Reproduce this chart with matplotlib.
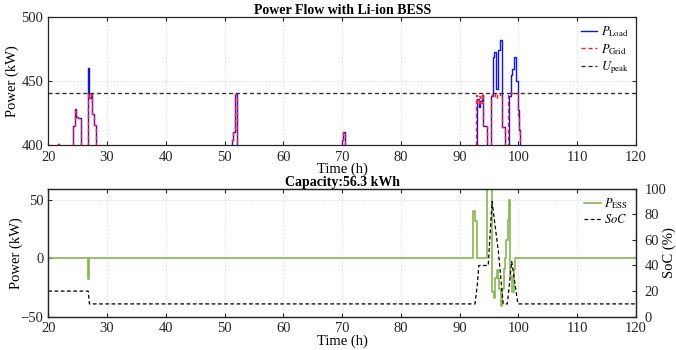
import matplotlib
matplotlib.use('Agg')
import matplotlib.pyplot as plt

# step breakpoints (time in h, value), values hold until the next time
load_t = [20, 21.6, 21.9, 24.2, 24.5, 24.8, 25.1, 25.5, 26.7, 27.0, 27.2, 27.5, 27.8, 28.1,
          51.2, 51.4, 51.7, 52.1, 70.0, 70.2, 70.5,
          92.9, 93.2, 93.45, 93.75, 94.0, 94.6, 95.3, 95.6, 95.85, 96.2, 96.55, 96.85, 97.25, 97.7,
          98.45, 98.7, 98.95, 99.2, 99.55, 99.85, 100.1, 100.3, 120]
load_kw = [380, 401, 380, 415, 428, 422, 421, 380, 460, 437, 440, 424, 416, 380,
           404, 410, 440, 380, 404, 410, 380,
           436, 430, 434, 439, 415, 380, 438, 469, 473, 444, 474, 482, 414, 380,
           438, 455, 459, 469, 450, 427, 412, 380, 380]

grid_t = [20, 21.6, 21.9, 24.2, 24.5, 24.8, 25.1, 25.5, 26.7, 27.0, 27.2, 27.5, 27.8, 28.1,
          51.2, 51.4, 51.7, 52.1, 70.0, 70.2, 70.5,
          92.75, 93.0, 93.2, 93.45, 93.75, 94.0, 94.6, 95.25, 95.5, 96.0, 96.3, 96.9, 97.25, 97.7,
          98.3, 99.7, 99.85, 100.1, 100.3, 120]
grid_kw = [380, 401, 380, 415, 428, 422, 421, 380, 441, 437, 440, 424, 416, 380,
           404, 410, 440, 380, 404, 410, 380,
           439, 432, 438, 433, 440, 415, 380, 438, 441, 437, 441, 439, 414, 380,
           441, 441, 423, 412, 380, 380]

u_peak = 441

ess_t = [20, 26.7, 27.0, 92.2, 92.6, 93.0, 94.7, 95.45, 95.5, 95.84, 96.07, 96.3, 96.5, 96.76,
         96.99, 97.27, 97.46, 97.69, 97.86, 98.14, 98.37, 98.6, 98.88, 99.17, 99.45, 120]
ess_kw = [0, -18, 0, 41, 32, 0, 70, 0, -29, -34, -17, -10, -17, -26,
          -41, -26, -9, 0, 16, 33, 50, -15, -29, -9, 0, 0]

soc_t = [20, 26.8, 27.0, 92.6, 93.0, 93.25, 94.85, 95.5, 96.6, 97.4, 98.1, 98.85, 99.9, 120]
soc_pct = [20, 20, 10, 10, 25, 40, 40, 90, 50, 10, 10, 43, 10, 10]

capacity = 56.3

plt.rcParams['font.family'] = ['Liberation Serif', 'DejaVu Serif']
plt.rcParams['mathtext.fontset'] = 'stix'
plt.rcParams['font.size'] = 9

ax_col = '#262626'
grid_style = dict(color='#d9d9d9', linestyle=':', linewidth=0.7)
leg_opts = dict(loc='upper right', frameon=False, fontsize=9, handlelength=1.3, handletextpad=0.3,
                labelspacing=0.2, borderaxespad=0.2)


def style_axes(ax):
    for s in ax.spines.values():
        s.set_color(ax_col)
        s.set_linewidth(0.9)
    ax.tick_params(direction='in', length=3, colors=ax_col, labelsize=10.5, top=True, right=True)
    ax.tick_params(axis='x', pad=4)
    ax.grid(True, **grid_style)
    ax.set_axisbelow(True)


fig = plt.figure(figsize=(6.76, 3.5), dpi=100)

# top panel: power flow
ax1 = fig.add_axes([0.0714, 0.5857, 0.8695, 0.3657])
ax1.plot(load_t, load_kw, drawstyle='steps-post', color='#1010ff', lw=1.0, label=r'$P_{\rm Load}$')
ax1.plot(grid_t, grid_kw, drawstyle='steps-post', color='#ff2020', lw=1.0, ls='--', dashes=(3, 2),
         label=r'$P_{\rm Grid}$')
ax1.axhline(u_peak, color='#333333', lw=1.0, ls='--', dashes=(3, 2), label=r'$U_{\rm peak}$')
ax1.set_xlim(20, 120)
ax1.set_ylim(400, 500)
ax1.set_xticks(range(20, 121, 10))
ax1.set_yticks([400, 450, 500])
style_axes(ax1)
ax1.set_title('Power Flow with Li-ion BESS', fontweight='bold', fontsize=10, pad=2)
ax1.set_xlabel('Time (h)', fontsize=10.5, labelpad=-0.5)
ax1.set_ylabel('Power (kW)', fontsize=10.5, labelpad=2)
ax1.legend(**leg_opts)

# bottom panel: ESS power and state of charge
ax2 = fig.add_axes([0.0714, 0.0951, 0.8695, 0.366])
l1, = ax2.plot(ess_t, ess_kw, drawstyle='steps-post', color='#86b84a', lw=1.2, label=r'$P_{\rm ESS}$')
ax2.set_xlim(20, 120)
ax2.set_ylim(-50, 60)
ax2.set_xticks(range(20, 121, 10))
ax2.set_yticks([-50, 0, 50])
style_axes(ax2)
ax2.tick_params(right=False)
ax2.set_title('Capacity:%.1f kWh' % capacity, fontweight='bold', fontsize=10, pad=2)
ax2.set_xlabel('Time (h)', fontsize=10.5, labelpad=-0.5)
ax2.set_ylabel('Power (kW)', fontsize=10.5, labelpad=-2)

ax3 = ax2.twinx()
l2, = ax3.plot(soc_t, soc_pct, color='black', lw=0.9, ls='--', dashes=(3, 2), label=r'$SoC$')
ax3.set_ylim(0, 100)
ax3.set_yticks(range(0, 101, 20))
ax3.tick_params(direction='in', length=3, colors=ax_col, labelsize=10.5, pad=6)
for s in ax3.spines.values():
    s.set_color(ax_col)
    s.set_linewidth(0.9)
ax3.set_ylabel('SoC (%)', fontsize=10.5, labelpad=-3)
ax3.legend([l1, l2], [r'$P_{\rm ESS}$', r'$SoC$'], **leg_opts)

fig.savefig('out.png', dpi=100)
